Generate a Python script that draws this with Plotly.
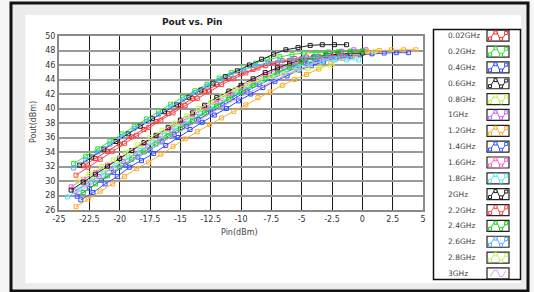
import plotly.graph_objects as go

# ---------------- data ----------------
series_names = ["0.02GHz", "0.2GHz", "0.4GHz", "0.6GHz", "0.8GHz", "1GHz", "1.2GHz", "1.4GHz",
                "1.6GHz", "1.8GHz", "2GHz", "2.2GHz", "2.4GHz", "2.6GHz", "2.8GHz", "3GHz"]

x_002 = [-23, -22, -21, -20, -19, -18, -17, -16, -15, -14, -13, -12, -11, -10, -9, -8, -7, -6, -5, -4, -3, -2, -1]
y_002 = [32.1, 33.1, 34.1, 35.1, 36.1, 37.1, 38.2, 39.3, 40.4, 41.4, 42.4, 43.3, 44.1, 44.8, 45.4, 45.9, 46.3, 46.6, 46.85, 47.0, 47.1, 47.15, 47.15]

x_02 = [-23.8, -22.8, -21.8, -20.8, -19.8, -18.8, -17.8, -16.8, -15.8, -14.8, -13.8, -12.8, -11.8, -10.8, -9.8, -8.8, -7.8, -6.8, -5.8, -4.8, -3.8, -2.8, -1.8, -0.8, 0.2]
y_02 = [32.4, 33.4, 34.45, 35.5, 36.5, 37.5, 38.55, 39.6, 40.6, 41.55, 42.45, 43.35, 44.2, 44.95, 45.65, 46.25, 46.75, 47.15, 47.45, 47.65, 47.75, 47.8, 47.85, 47.85, 47.9]

x_04 = [-23.2, -22.2, -21.2, -20.2, -19.2, -18.2, -17.2, -16.2, -15.2, -14.2, -13.2, -12.2, -11.2, -10.2, -9.2, -8.2, -7.2, -6.2, -5.2, -4.2, -3.2, -2.2, -1.2, -0.2, 0.8, 1.8, 2.8, 3.8]
y_04 = [27.4, 28.4, 29.6, 30.6, 31.9, 32.8, 33.8, 34.9, 36.0, 37.1, 38.1, 39.1, 40.0, 41.05, 42.0, 42.9, 43.75, 44.5, 45.3, 45.9, 46.5, 47.0, 47.25, 47.4, 47.55, 47.65, 47.7, 47.7]

x_06 = [-23.3, -22.3, -21.3, -20.3, -19.3, -18.3, -17.3, -16.3, -15.3, -14.3, -13.3, -12.3, -11.3, -10.3, -9.3, -8.3, -7.3, -6.3, -5.3, -4.3, -3.3, -2.3, -1.3]
y_06 = [32.2, 33.3, 34.4, 35.45, 36.5, 37.55, 38.6, 39.55, 40.5, 41.55, 42.55, 43.5, 44.4, 45.2, 46.0, 46.8, 47.5, 48.1, 48.4, 48.7, 48.8, 48.8, 48.8]

x_08 = [-23, -22, -21, -20, -19, -18, -17, -16, -15, -14, -13, -12, -11, -10, -9, -8, -7, -6, -5, -4, -3, -2, -1, 0, 1]
y_08 = [29.6, 30.6, 31.7, 32.8, 33.8, 34.9, 35.9, 37.0, 38.0, 39.0, 40.0, 41.0, 41.9, 42.8, 43.6, 44.4, 45.1, 45.7, 46.2, 46.6, 47.0, 47.3, 47.55, 47.75, 47.9]

x_1 = [-23.7, -22.7, -21.7, -20.7, -19.7, -18.7, -17.7, -16.7, -15.7, -14.7, -13.7, -12.7, -11.7, -10.7, -9.7, -8.7, -7.7, -6.7, -5.7, -4.7, -3.7, -2.7, -1.7, -0.7, 0.3]
y_1 = [28.6, 29.6, 30.6, 31.7, 32.7, 33.8, 34.8, 35.8, 36.9, 37.9, 38.9, 39.9, 40.9, 41.9, 42.8, 43.7, 44.5, 45.3, 46.0, 46.6, 47.1, 47.6, 47.9, 48.1, 48.1]

x_12 = [-23.6, -22.6, -21.6, -20.6, -19.6, -18.6, -17.6, -16.6, -15.6, -14.6, -13.6, -12.6, -11.6, -10.6, -9.6, -8.6, -7.6, -6.6, -5.6, -4.6, -3.6, -2.6, -1.6, -0.6, 0.4, 1.4, 2.4, 3.4, 4.4]
y_12 = [26.45, 27.5, 28.6, 29.6, 30.6, 31.7, 32.6, 33.7, 34.8, 35.8, 36.8, 37.8, 38.7, 39.6, 40.5, 41.5, 42.3, 43.2, 44.0, 44.7, 45.45, 46.2, 46.9, 47.4, 47.8, 48.0, 48.1, 48.1, 48.1]

x_14 = [-23.5, -22.5, -21.5, -20.5, -19.5, -18.5, -17.5, -16.5, -15.5, -14.5, -13.5, -12.5, -11.5, -10.5, -9.5, -8.5, -7.5, -6.5, -5.5, -4.5, -3.5, -2.5, -1.5]
y_14 = [27.9, 29.0, 30.1, 31.2, 32.2, 33.3, 34.3, 35.4, 36.4, 37.5, 38.5, 39.5, 40.5, 41.5, 42.4, 43.3, 44.1, 44.9, 45.6, 46.2, 46.7, 47.1, 47.3]

x_16 = [-24, -23, -22, -21, -20, -19, -18, -17, -16, -15, -14, -13, -12, -11, -10, -9, -8, -7, -6, -5, -4, -3, -2, -1]
y_16 = [29.2, 30.2, 31.2, 32.2, 33.2, 34.2, 35.2, 36.2, 37.2, 38.2, 39.2, 40.2, 41.2, 42.1, 43.0, 43.9, 44.7, 45.4, 46.0, 46.5, 46.9, 47.2, 47.4, 47.5]

x_18 = [-24.3, -23.3, -22.3, -21.3, -20.3, -19.3, -18.3, -17.3, -16.3, -15.3, -14.3, -13.3, -12.3, -11.3, -10.3, -9.3, -8.3, -7.3, -6.3, -5.3, -4.3, -3.3, -2.3, -1.3, -0.3]
y_18 = [27.8, 28.9, 30.0, 31.1, 32.1, 33.2, 34.2, 35.3, 36.3, 37.3, 38.3, 39.3, 40.3, 41.3, 42.2, 43.0, 43.8, 44.6, 45.3, 45.8, 46.2, 46.5, 46.7, 46.7, 46.7]

x_2 = [-24, -23, -22, -21, -20, -19, -18, -17, -16, -15, -14, -13, -12, -11, -10, -9, -8, -7, -6, -5, -4, -3, -2, -1, 0]
y_2 = [28.75, 29.85, 30.95, 32.05, 33.1, 34.2, 35.3, 36.3, 37.4, 38.4, 39.4, 40.45, 41.5, 42.4, 43.2, 44.1, 44.95, 45.6, 46.2, 46.7, 47.1, 47.35, 47.5, 47.6, 47.65]

x_22 = [-23.6, -22.6, -21.6, -20.6, -19.6, -18.6, -17.6, -16.6, -15.6, -14.6, -13.6, -12.6, -11.6, -10.6, -9.6, -8.6, -7.6, -6.6, -5.6, -4.6, -3.6, -2.6, -1.6]
y_22 = [30.8, 31.9, 33.0, 34.1, 35.2, 36.3, 37.4, 38.4, 39.4, 40.4, 41.4, 42.4, 43.3, 44.1, 44.9, 45.6, 46.2, 46.6, 46.9, 47.1, 47.2, 47.25, 47.3]

x_24 = [-23, -22, -21, -20, -19, -18, -17, -16, -15, -14, -13, -12, -11, -10, -9, -8, -7, -6, -5, -4, -3, -2, -1, 0]
y_24 = [28.4, 29.6, 30.7, 31.9, 33.0, 34.0, 35.1, 36.2, 37.2, 38.3, 39.4, 40.35, 41.3, 42.3, 43.2, 44.1, 44.9, 45.7, 46.4, 47.0, 47.5, 47.8, 47.9, 47.95]

x_26 = [-23.8, -22.8, -21.8, -20.8, -19.8, -18.8, -17.8, -16.8, -15.8, -14.8, -13.8, -12.8, -11.8, -10.8, -9.8, -8.8, -7.8, -6.8, -5.8, -4.8, -3.8, -2.8, -1.8, -0.8]
y_26 = [31.8, 32.9, 34.0, 35.1, 36.1, 37.2, 38.2, 39.2, 40.2, 41.2, 42.2, 43.1, 43.9, 44.7, 45.3, 45.9, 46.3, 46.6, 46.8, 47.0, 47.1, 47.15, 47.2, 47.2]

x_28 = [-23.5, -22.5, -21.5, -20.5, -19.5, -18.5, -17.5, -16.5, -15.5, -14.5, -13.5, -12.5, -11.5, -10.5, -9.5, -8.5, -7.5, -6.5, -5.5, -4.5, -3.5, -2.5]
y_28 = [30.0, 31.0, 32.0, 33.0, 34.0, 35.0, 36.0, 37.0, 38.0, 39.0, 40.0, 40.9, 41.8, 42.6, 43.3, 43.9, 44.4, 44.8, 45.2, 45.5, 45.7, 45.9]

x_3 = [-23.5, -22.5, -21.5, -20.5, -19.5, -18.5, -17.5, -16.5, -15.5, -14.5, -13.5, -12.5, -11.5, -10.5, -9.5, -8.5, -7.5, -6.5, -5.5, -4.5, -3.5, -2.5]
y_3 = [28.4, 29.4, 30.4, 31.4, 32.4, 33.4, 34.4, 35.4, 36.4, 37.4, 38.4, 39.4, 40.3, 41.2, 42.1, 42.9, 43.7, 44.5, 45.2, 45.9, 46.5, 47.0]

x_ticks = [-25, -22.5, -20, -17.5, -15, -12.5, -10, -7.5, -5, -2.5, 0, 2.5, 5]
y_ticks = [26, 28, 30, 32, 34, 36, 38, 40, 42, 44, 46, 48, 50]

# ---------------- styling ----------------
all_x = [x_002, x_02, x_04, x_06, x_08, x_1, x_12, x_14, x_16, x_18, x_2, x_22, x_24, x_26, x_28, x_3]
all_y = [y_002, y_02, y_04, y_06, y_08, y_1, y_12, y_14, y_16, y_18, y_2, y_22, y_24, y_26, y_28, y_3]
colors = ["#ff2a2a", "#2ee82e", "#2f4bff", "#1e1e1e", "#c8f050", "#c860f0", "#ffad2a", "#3a55ff",
          "#ff5ccf", "#5ae8f5", "#1e1e1e", "#ff4646", "#18cf18", "#55b0ff", "#c8f566", "#dc96f5"]
with_markers = [True] * 15 + [False]

W, H = 534, 292
L, R, T, B = 59, 111, 36, 82
PW, PH = W - L - R, H - T - B


def pxx(x):
    return (x - L) / PW


def pxy(y):
    return (H - B - y) / PH


fig = go.Figure()
for xs, ys, c, mk, nm in zip(all_x, all_y, colors, with_markers, series_names):
    fig.add_trace(go.Scatter(
        x=xs, y=ys, name=nm,
        mode="lines+markers" if mk else "lines",
        line=dict(color=c, width=1),
        marker=dict(symbol="square-open", size=4, color=c, line=dict(width=1, color=c)),
        showlegend=False,
    ))

shapes = []
# outer frame and panels
shapes.append(dict(type="rect", xref="paper", yref="paper", layer="below",
                   x0=pxx(11), x1=pxx(528), y0=pxy(291), y1=pxy(3),
                   line=dict(color="#111111", width=3), fillcolor="#ececec"))
shapes.append(dict(type="rect", xref="paper", yref="paper", layer="below",
                   x0=pxx(25.5), x1=pxx(521), y0=pxy(283), y1=pxy(15),
                   line=dict(width=0), fillcolor="#ffffff"))
# legend box
shapes.append(dict(type="rect", xref="paper", yref="paper", layer="above",
                   x0=pxx(433.5), x1=pxx(520.5), y0=pxy(279.5), y1=pxy(29.5),
                   line=dict(color="#111111", width=1.5), fillcolor="#ffffff"))

annotations = []
bx0, bx1 = 487, 509
zig = [(0.08, 0.85), (0.30, 0.15), (0.45, 0.15), (0.60, 0.85), (0.72, 0.85), (0.93, 0.2)]
mk_pts = [(0.08, 0.82), (0.37, 0.15), (0.66, 0.85), (0.93, 0.2)]
for i, (nm, c, mk) in enumerate(zip(series_names, colors, with_markers)):
    cy = 35.7 + i * 15.85
    top, bot = cy - 5.5, cy + 5.5
    annotations.append(dict(x=pxx(445.5), y=pxy(cy), xref="paper", yref="paper",
                            text=nm, showarrow=False, xanchor="left", yanchor="middle",
                            font=dict(family="DejaVu Sans", size=7.5, color="#444444")))
    shapes.append(dict(type="rect", xref="paper", yref="paper", layer="above",
                       x0=pxx(bx0), x1=pxx(bx1), y0=pxy(bot), y1=pxy(top),
                       line=dict(color="#222222", width=1.2), fillcolor="#ffffff"))
    pts = [(pxx(bx0 + 1.5 + fx * (bx1 - bx0 - 3)), pxy(top + 1 + fy * (bot - top - 2))) for fx, fy in zig]
    path = "M " + " L ".join(f"{px:.5f},{py:.5f}" for px, py in pts)
    shapes.append(dict(type="path", xref="paper", yref="paper", layer="above", path=path,
                       line=dict(color=c, width=1)))
    if mk:
        for fx, fy in mk_pts:
            mx = bx0 + 1.5 + fx * (bx1 - bx0 - 3)
            my = top + 1 + fy * (bot - top - 2)
            shapes.append(dict(type="rect", xref="paper", yref="paper", layer="above",
                               x0=pxx(mx - 1.5), x1=pxx(mx + 1.5), y0=pxy(my + 1.5), y1=pxy(my - 1.5),
                               line=dict(color=c, width=1), fillcolor="#ffffff"))

# titles
annotations.append(dict(x=pxx(192), y=pxy(22.5), xref="paper", yref="paper", text="<b>Pout vs. Pin</b>",
                        showarrow=False, xanchor="center", yanchor="middle",
                        font=dict(family="DejaVu Sans", size=9, color="#222222")))
annotations.append(dict(x=pxx(239), y=pxy(232), xref="paper", yref="paper", text="Pin(dBm)",
                        showarrow=False, xanchor="center", yanchor="middle",
                        font=dict(family="DejaVu Sans", size=8, color="#444444")))
annotations.append(dict(x=pxx(34), y=pxy(122), xref="paper", yref="paper", text="Pout(dBm)",
                        showarrow=False, xanchor="center", yanchor="middle", textangle=-90,
                        font=dict(family="DejaVu Sans", size=8, color="#444444")))

fig.update_layout(
    width=W, height=H, autosize=False,
    margin=dict(l=L, r=R, t=T, b=B, pad=0),
    paper_bgcolor="#f5f5f5", plot_bgcolor="#ffffff",
    shapes=shapes, annotations=annotations,
    font=dict(family="DejaVu Sans", size=8, color="#333333"),
    showlegend=False,
)
fig.update_xaxes(range=[-25, 5], tickvals=x_ticks, ticktext=[f"{v:g}" for v in x_ticks],
                 showgrid=True, gridcolor="#1a1a1a", gridwidth=1.3,
                 showline=True, linecolor="#8a8a8a", linewidth=2, mirror=True,
                 zeroline=False, ticks="", tickfont=dict(size=8, color="#333333"))
fig.update_yaxes(range=[26, 50], tickvals=y_ticks,
                 showgrid=True, gridcolor="#9a9a9a", gridwidth=2,
                 showline=True, linecolor="#8a8a8a", linewidth=2, mirror=True,
                 zeroline=False, ticks="", tickfont=dict(size=8, color="#333333"))

fig.write_html("out.html", config={"displayModeBar": False},
               post_script="document.body.style.margin='0';document.body.style.overflow='hidden';")
